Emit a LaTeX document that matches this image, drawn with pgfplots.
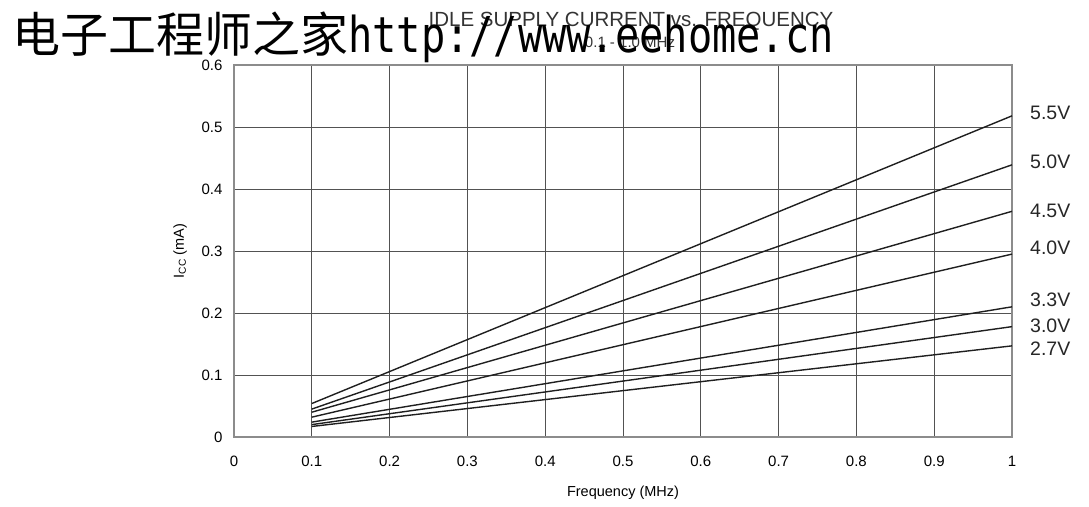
\documentclass[border=0pt]{standalone}
\usepackage{pgfplots}
\pgfplotsset{compat=1.18}
\usepackage{fontspec}
\setmainfont{Liberation Sans}
\newfontfamily\cjk{Noto Sans CJK SC}
\newfontfamily\wmmono{DejaVu Sans Mono}
\begin{document}
\begin{tikzpicture}[x=1pt,y=1pt]
\useasboundingbox (-234,-69) rectangle (855,437);
\begin{axis}[at={(0,0)},anchor=south west,
  scale only axis, width=778pt, height=372pt,
  xmin=0, xmax=1, ymin=0, ymax=0.6,
  xtick={0,0.1,0.2,0.3,0.4,0.5,0.6,0.7,0.8,0.9,1},
  ytick={0,0.1,0.2,0.3,0.4,0.5,0.6},
  /pgf/number format/assume math mode=true,
  ticklabel style={font=\fontsize{15}{18}\selectfont},
  xticklabel style={yshift=-15pt, text height=11pt},
  yticklabel style={xshift=-8pt},
  major tick length=0pt,
  grid=major,
  major grid style={draw=black!68, line width=0.8pt},
  axis line style={draw=black!45, line width=1.5pt},
  xlabel={Frequency (MHz)},
  ylabel={I\textsubscript{CC} (mA)},
  every axis x label/.style={at={(axis description cs:0.5,-0.1505)}, anchor=center, font=\fontsize{14.5}{17}\selectfont},
  every axis y label/.style={at={(axis description cs:-0.0694,0.5)}, rotate=90, anchor=center, font=\fontsize{14.5}{17}\selectfont},
  clip=false,
]
\addplot[black!88, line width=1.4pt] coordinates {(0.1,0.054) (1,0.518)};
\addplot[black!88, line width=1.4pt] coordinates {(0.1,0.045) (1,0.439)};
\addplot[black!88, line width=1.4pt] coordinates {(0.1,0.040) (1,0.364)};
\addplot[black!88, line width=1.4pt] coordinates {(0.1,0.032) (1,0.295)};
\addplot[black!88, line width=1.4pt] coordinates {(0.1,0.024) (1,0.210)};
\addplot[black!88, line width=1.4pt] coordinates {(0.1,0.020) (1,0.178)};
\addplot[black!88, line width=1.4pt] coordinates {(0.1,0.017) (1,0.147)};
\end{axis}
\begin{scope}[every node/.style={anchor=west, inner sep=0pt, font=\fontsize{19.5}{22}\selectfont, text=black!85}]
\node at (796,324) {5.5V};
\node at (796,275) {5.0V};
\node at (796,226) {4.5V};
\node at (796,189) {4.0V};
\node at (796,137) {3.3V};
\node at (796,111) {3.0V};
\node at (796,88) {2.7V};
\end{scope}
\node[anchor=base, inner sep=0pt, font=\fontsize{20.5}{24}\selectfont, text=black!80] at (397,410) {IDLE SUPPLY CURRENT vs. FREQUENCY};
\node[anchor=base, inner sep=0pt, font=\fontsize{15}{18}\selectfont, text=black!80] at (396,389) {0.1 - 1.0 MHz};
\node[anchor=base west, inner sep=0pt] at (-222,384) {\fontsize{48}{50}\selectfont\cjk 电子工程师之家\scalebox{0.84}[1.03]{\wmmono http://www.eehome.cn}};
\end{tikzpicture}
\end{document}
